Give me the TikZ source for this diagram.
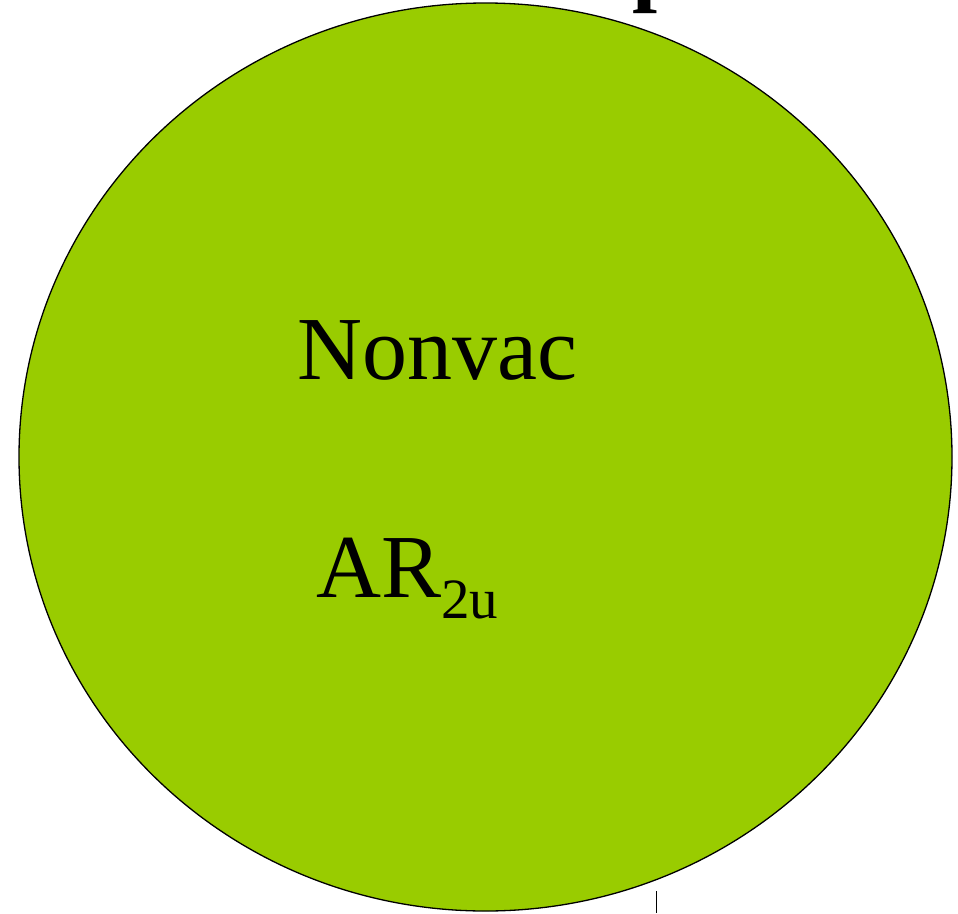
\documentclass[tikz,border=0pt]{standalone}
\usepackage{fontspec}
\setmainfont{Liberation Serif}
\usetikzlibrary{shapes.geometric}
\definecolor{leaf}{RGB}{153,204,0}
\begin{document}
\begin{tikzpicture}[x=1pt,y=-1pt,
  lbl/.style={inner sep=0pt,anchor=base west,font=\fontsize{90}{90}\selectfont}]
\useasboundingbox (0,0) rectangle (958,913);
\node[draw=black,line width=1.3pt,fill=leaf,ellipse,minimum width=933pt,minimum height=908pt,inner sep=0pt] (circ) at (485.5,457) {};
\node[lbl] (nonvac) at (297,379) {Nonvac};
\node[lbl] (ar) at (316,597) {AR\raisebox{-21pt}{\fontsize{57}{57}\selectfont 2u}};
\node[lbl,font=\fontsize{90}{90}\selectfont\bfseries] (title) at (632,-6) {p};
\coordinate (t1) at (656,891);
\coordinate (t2) at (656,913);
\draw[line width=1pt] (t1) -- (t2);
\end{tikzpicture}
\end{document}
